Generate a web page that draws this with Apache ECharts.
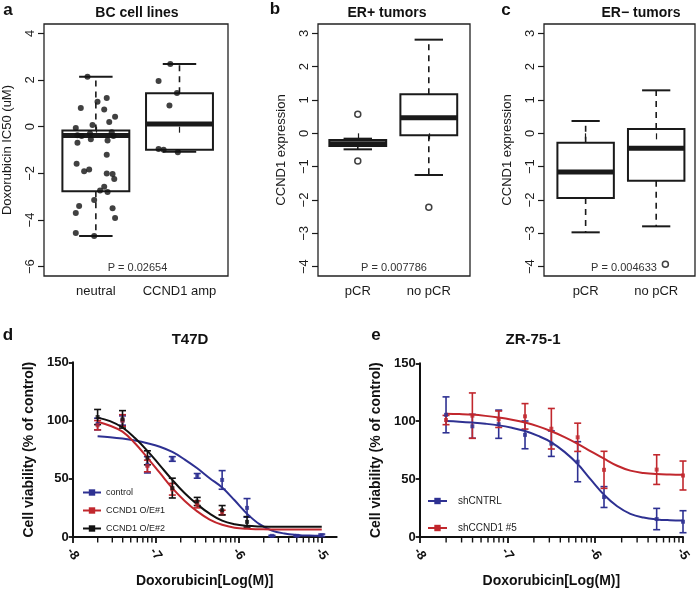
<!DOCTYPE html>
<html><head><meta charset="utf-8">
<script src="https://cdn.jsdelivr.net/npm/echarts@6/dist/echarts.min.js"></script>
<style>html,body{margin:0;padding:0;background:#fff}#c{width:698px;height:589px}</style>
</head><body><div id="c"></div>
<script>
// ---------- Panel a: BC cell lines ----------
const catsA = ['neutral', 'CCND1 amp'];
// [position, lowerWhisker, Q1, median, Q3, upperWhisker]
const boxA = [
  [1, -4.69, -2.77, -0.38, -0.16, 2.14],
  [2, -1.07, -0.99, 0.11, 1.43, 2.69]
];
const pointsA = [
  [0.90,2.14],[1.02,1.07],[1.13,1.23],[0.82,0.80],[1.10,0.74],[1.23,0.43],[0.96,0.07],[1.16,0.20],
  [0.76,-0.06],[0.78,-0.37],[0.83,-0.40],[0.93,-0.29],[0.94,-0.54],[1.19,-0.24],[1.21,-0.40],[0.78,-0.69],
  [1.14,-0.59],[1.13,-1.20],[0.77,-1.59],[0.86,-1.91],[0.92,-1.84],[1.13,-2.01],[1.20,-2.03],[1.22,-2.24],
  [1.10,-2.57],[1.05,-2.74],[1.14,-2.80],[0.98,-3.14],[0.80,-3.40],[0.76,-3.70],[1.20,-3.50],[1.23,-3.91],
  [0.76,-4.56],[0.98,-4.69],
  [1.89,2.69],[1.75,1.96],[1.97,1.44],[1.88,0.91],[1.75,-0.96],[1.81,-0.99],[1.98,-1.10]
];
const ticksA = [-6, -4, -2, 0, 2, 4];
const pA = 'P = 0.02654';

// ---------- Panel b: ER+ tumors ----------
const catsB = ['pCR', 'no pCR'];
const boxB = [
  [1, -0.48, -0.38, -0.31, -0.20, -0.16],
  [2, -1.25, -0.06, 0.47, 1.17, 2.81]
];
const outB = [[1, 0.57], [1, -0.83], [2, -2.22]];
const ticksBC = [-4, -3, -2, -1, 0, 1, 2, 3];
const pB = 'P = 0.007786';

// ---------- Panel c: ER- tumors ----------
const catsC = ['pCR', 'no pCR'];
const boxC = [
  [1, -2.97, -1.94, -1.16, -0.28, 0.37],
  [2, -2.79, -1.42, -0.45, 0.13, 1.29]
];
const outC = [[2.13, -3.93]];
const pC = 'P = 0.004633';

// ---------- Panel d: T47D ----------
const doseTicks = [-8, -7, -6, -5];
const curveControl = [[-7.7,86.5],[-7.55,85.7],[-7.4,84.5],[-7.25,82.8],[-7.1,80.5],[-6.95,77.5],[-6.8,73],[-6.65,66.5],[-6.5,59],[-6.35,50.5],[-6.2,42.5],[-6.05,31.5],[-5.9,20],[-5.75,11],[-5.6,5.5],[-5.45,3],[-5.3,1.8],[-5.15,1.2],[-5.0,1]];
const curveOE1 = [[-7.7,99],[-7.55,95.5],[-7.4,90.5],[-7.25,80.5],[-7.1,68],[-6.95,55],[-6.8,42],[-6.65,31],[-6.5,22],[-6.35,15],[-6.2,10.5],[-6.05,8],[-5.9,7],[-5.75,6.7],[-5.6,6.5],[-5.45,6.5],[-5.3,6.5],[-5.15,6.5],[-5.0,6.5]];
const curveOE2 = [[-7.7,102.5],[-7.55,99.5],[-7.4,94],[-7.25,85],[-7.1,74],[-6.95,61.5],[-6.8,49],[-6.65,37.5],[-6.5,28],[-6.35,20],[-6.2,14],[-6.05,11],[-5.9,9.6],[-5.75,9],[-5.6,8.8],[-5.45,8.7],[-5.3,8.7],[-5.15,8.7],[-5.0,8.7]];
// [log dose, mean, error]
const ptsControl = [[-7.7,97,5],[-7.4,100,4],[-7.1,62,7],[-6.8,67,2],[-6.5,52.5,2],[-6.2,49,8],[-5.9,25,8],[-5.6,1,0.5],[-5.3,1,0.5],[-5.0,1.5,1]];
const ptsOE1 = [[-7.7,96,4],[-7.4,100,5],[-7.1,61,5],[-6.8,41,5],[-6.5,28,3],[-6.2,21,2]];
const ptsOE2 = [[-7.7,103,6.5],[-7.4,101,7.5],[-7.1,68,6],[-6.8,42,8.5],[-6.5,30.5,3.5],[-6.2,23,4],[-5.9,13,4.5]];

// ---------- Panel e: ZR-75-1 ----------
const curveCNTRL = [[-7.7,100.2],[-7.55,99.6],[-7.4,98.8],[-7.25,97.8],[-7.1,96.4],[-6.95,94.3],[-6.8,91.5],[-6.65,87.3],[-6.5,81.8],[-6.35,73.5],[-6.2,63],[-6.05,49.5],[-5.9,36.5],[-5.75,26.5],[-5.6,20],[-5.45,16.8],[-5.3,15.2],[-5.15,14.5],[-5.0,14.2]];
const curveCCND1 = [[-7.7,106.5],[-7.55,106.2],[-7.4,105.7],[-7.25,104.6],[-7.1,103.1],[-6.95,101.2],[-6.8,98.8],[-6.65,95.5],[-6.5,91.3],[-6.35,86.3],[-6.2,80.5],[-6.05,74],[-5.9,67.6],[-5.75,61.5],[-5.6,57.3],[-5.45,55.3],[-5.3,54.3],[-5.15,53.9],[-5.0,53.7]];
const ptsCNTRL = [[-7.7,105.5,15.5],[-7.4,95.6,10.3],[-7.1,97.4,12.2],[-6.8,88.2,12],[-6.5,80.6,11],[-6.2,65,17.3],[-5.9,34.5,9],[-5.3,15.5,9.2],[-5.0,13.2,9.5]];
const ptsCCND1 = [[-7.7,101,4],[-7.4,104.8,19.6],[-7.1,101.7,7.1],[-6.8,104.2,11],[-6.5,93.5,17.5],[-6.2,86.1,12.2],[-5.9,58,16],[-5.3,58.2,12.8],[-5.0,53.1,12.5]];

// log-scale minor tick positions (axis decoration)
const minorTicks = [];
for (let d = -8; d < -5; d++) for (let k = 2; k <= 9; k++) minorTicks.push(d + Math.log10(k));

// ---------- styling ----------
const RF = '"Liberation Sans", Arial, sans-serif';
const INK = '#1a1a1a';
const BLUE = '#2E3192', RED = '#C1272D', BLACK = '#111111';
const minus = v => String(v).replace('-', '\u2212');

function boxRender(params, api) {
  const x = api.value(0), lo = api.value(1), q1 = api.value(2), med = api.value(3), q3 = api.value(4), hi = api.value(5);
  const tl = api.coord([x - 0.4, q3]), br = api.coord([x + 0.4, q1]);
  const cx = api.coord([x, med])[0];
  const sL = api.coord([x - 0.2, med])[0], sR = api.coord([x + 0.2, med])[0];
  const yLo = api.coord([x, lo])[1], yHi = api.coord([x, hi])[1], yMed = api.coord([x, med])[1];
  const ch = [];
  if (yHi < tl[1] - 1) ch.push({type:'line', shape:{x1:cx,y1:tl[1],x2:cx,y2:yHi}, style:{stroke:INK, lineWidth:1.6, lineDash:[6,5]}});
  if (yLo > br[1] + 1) ch.push({type:'line', shape:{x1:cx,y1:br[1],x2:cx,y2:yLo}, style:{stroke:INK, lineWidth:1.6, lineDash:[6,5]}});
  ch.push({type:'line', shape:{x1:sL,y1:yHi,x2:sR,y2:yHi}, style:{stroke:INK, lineWidth:2}});
  ch.push({type:'line', shape:{x1:sL,y1:yLo,x2:sR,y2:yLo}, style:{stroke:INK, lineWidth:2}});
  ch.push({type:'rect', shape:{x:tl[0], y:tl[1], width:br[0]-tl[0], height:br[1]-tl[1]}, style:{fill:'rgba(255,255,255,0)', stroke:INK, lineWidth:2}});
  ch.push({type:'line', shape:{x1:tl[0],y1:yMed,x2:br[0],y2:yMed}, style:{stroke:INK, lineWidth:5}});
  return {type:'group', children: ch};
}
function errRender(params, api) {
  const x = api.value(0), m = api.value(1), e = api.value(2);
  const t = api.coord([x, m + e]), b = api.coord([x, m - e]);
  const c = api.visual('color'), cap = 3.5;
  return {type:'group', children:[
    {type:'line', shape:{x1:t[0],y1:t[1],x2:b[0],y2:b[1]}, style:{stroke:c, lineWidth:1.6}},
    {type:'line', shape:{x1:t[0]-cap,y1:t[1],x2:t[0]+cap,y2:t[1]}, style:{stroke:c, lineWidth:1.6}},
    {type:'line', shape:{x1:b[0]-cap,y1:b[1],x2:b[0]+cap,y2:b[1]}, style:{stroke:c, lineWidth:1.6}}
  ]};
}
// minor log ticks: drawn just below the axis line from the minorTicks positions
function minorRender(params, api) {
  const p = api.coord([api.value(0), api.value(1)]);
  return {type:'group', children:[{type:'rect', shape:{x:p[0] - 0.7, y:p[1] + 1, width:1.4, height:4.5}, style:{fill:'#111'}}]};
}

function boxGrid(left, width) {
  return {left, top: 24, width, height: 252, show: true, borderColor: '#222', borderWidth: 1.3, backgroundColor: 'transparent'};
}
function catX(gi, min, max, cats) {
  return {type:'value', gridIndex: gi, min, max, splitLine:{show:false}, axisLine:{show:false},
    axisTick:{show:true, customValues:[1,2], length:6, lineStyle:{color:INK, width:1.2}},
    axisLabel:{customValues:[1,2], formatter: v => cats[Math.round(v)-1], fontFamily: RF, fontSize: 13, color: INK, margin: 9}};
}
function boxY(gi, min, max, ticks, name) {
  return {type:'value', gridIndex: gi, min, max, splitLine:{show:false}, axisLine:{show:false},
    name, nameLocation:'middle', nameGap: 30, nameTextStyle:{fontFamily: RF, fontSize: 13, color: INK},
    axisTick:{show:true, customValues: ticks, length:6, lineStyle:{color:INK, width:1.2}},
    axisLabel:{customValues: ticks, formatter: minus, rotate: 90, fontFamily: RF, fontSize: 13, color: INK, margin: 7}};
}
function doseX(gi, max) {
  return {type:'value', gridIndex: gi, position:'bottom', min: -8, max, splitLine:{show:false},
    name: 'Doxorubicin[Log(M)]', nameLocation:'middle', nameGap: 37,
    nameTextStyle:{fontFamily: RF, fontSize: 14, fontWeight:'bold', color: '#111'},
    axisLine:{show:true, lineStyle:{color:'#111', width:2}},
    axisTick:{show:true, customValues: doseTicks, length:6, lineStyle:{color:'#111', width:1.8}},
    axisLabel:{customValues: doseTicks, formatter: v => String(v), rotate: -55, align:'center', verticalAlign:'middle',
      fontFamily: RF, fontSize: 13, fontWeight:'bold', color:'#111', margin: 17}};
}
function viabY(gi) {
  return {type:'value', gridIndex: gi, min: 0, max: 150, interval: 50, splitLine:{show:false},
    name: 'Cell viability (% of control)', nameLocation:'middle', nameGap: 37,
    nameTextStyle:{fontFamily: RF, fontSize: 14, fontWeight:'bold', color:'#111'},
    axisLine:{show:true, lineStyle:{color:'#111', width:2}},
    axisTick:{show:true, length:4, lineStyle:{color:'#111', width:1.8}},
    axisLabel:{fontFamily: RF, fontSize: 13, fontWeight:'bold', color:'#111', margin: 4}};
}
function curve(name, data, color, xi, yi) {
  return {type:'line', name, data, xAxisIndex: xi, yAxisIndex: yi, smooth: 0.4,
    showSymbol: false, symbol: 'rect', symbolSize: 4, color, lineStyle:{color, width: 2}, z: 3, silent: true};
}
function errs(name, data, color, xi, yi) {
  return {type:'custom', name, data, xAxisIndex: xi, yAxisIndex: yi, renderItem: errRender, color,
    encode:{x:0, y:1}, z: 2, silent: true};
}
function pts(name, data, color, xi, yi) {
  return {type:'scatter', name, data: data.map(d => [d[0], d[1]]), xAxisIndex: xi, yAxisIndex: yi,
    symbol: 'rect', symbolSize: 4, itemStyle:{color}, z: 4, silent: true};
}
function minorSeries(xi, yi) {
  return {type:'custom', data: minorTicks.map(v => [v, 0]), xAxisIndex: xi, yAxisIndex: yi,
    renderItem: minorRender, encode:{x:0, y:1}, clip: false, silent: true, z: 20, zlevel: 1};
}
function txt(x, y, text, size, bold, align, color) {
  return {type:'text', x, y, style:{text, fontFamily: RF, fontSize: size, fontWeight: bold ? 'bold' : 'normal',
    fill: color || '#111', align: align || 'center', verticalAlign: 'middle'}};
}

const chart = echarts.init(document.getElementById('c'), null, {renderer: 'canvas'});
chart.setOption({
  animation: false,
  backgroundColor: '#fff',
  grid: [
    boxGrid(44, 184),
    boxGrid(318, 152),
    boxGrid(544, 151),
    {left: 72.7, top: 362.3, width: 264, height: 176.4},
    {left: 419.7, top: 363.3, width: 263.3, height: 176}
  ],
  xAxis: [
    catX(0, 0.38, 2.58, catsA),
    catX(1, 0.44, 2.58, catsB),
    catX(2, 0.41, 2.55, catsC),
    doseX(3, -4.82),
    doseX(4, -5)
  ],
  yAxis: [
    boxY(0, -6.4, 4.4, ticksA, 'Doxorubicin IC50 (uM)'),
    boxY(1, -4.28, 3.28, ticksBC, 'CCND1 expression'),
    boxY(2, -4.28, 3.28, ticksBC, 'CCND1 expression'),
    viabY(3),
    viabY(4)
  ],
  legend: [
    {data: ['control', 'CCND1 O/E#1', 'CCND1 O/E#2'], orient: 'vertical', left: 77, top: 483,
      itemWidth: 18, itemHeight: 8, itemGap: 9, textStyle:{fontFamily: RF, fontSize: 9, color:'#222'}},
    {data: ['shCNTRL', 'shCCND1 #5'], orient: 'vertical', left: 422, top: 491,
      itemWidth: 19, itemHeight: 8, itemGap: 17, textStyle:{fontFamily: RF, fontSize: 10, color:'#222', padding:[0,0,0,6]}}
  ],
  series: [
    {type:'custom', data: boxA, xAxisIndex: 0, yAxisIndex: 0, renderItem: boxRender, encode:{x:0, y:3}, silent: true},
    {type:'scatter', data: pointsA, xAxisIndex: 0, yAxisIndex: 0, symbolSize: 6, itemStyle:{color:'#111'}, z: 5, silent: true},
    {type:'custom', data: boxB, xAxisIndex: 1, yAxisIndex: 1, renderItem: boxRender, encode:{x:0, y:3}, silent: true},
    {type:'scatter', data: outB, xAxisIndex: 1, yAxisIndex: 1, symbolSize: 6, itemStyle:{color:'#fff', borderColor:'#111', borderWidth:1.5}, silent: true},
    {type:'custom', data: boxC, xAxisIndex: 2, yAxisIndex: 2, renderItem: boxRender, encode:{x:0, y:3}, silent: true},
    {type:'scatter', data: outC, xAxisIndex: 2, yAxisIndex: 2, symbolSize: 6, itemStyle:{color:'#fff', borderColor:'#111', borderWidth:1.5}, silent: true},

    minorSeries(3, 3),
    curve('control', curveControl, BLUE, 3, 3),
    curve('CCND1 O/E#1', curveOE1, RED, 3, 3),
    curve('CCND1 O/E#2', curveOE2, BLACK, 3, 3),
    errs('control', ptsControl, BLUE, 3, 3),
    errs('CCND1 O/E#1', ptsOE1, RED, 3, 3),
    errs('CCND1 O/E#2', ptsOE2, BLACK, 3, 3),
    pts('control', ptsControl, BLUE, 3, 3),
    pts('CCND1 O/E#1', ptsOE1, RED, 3, 3),
    pts('CCND1 O/E#2', ptsOE2, BLACK, 3, 3),

    minorSeries(4, 4),
    curve('shCNTRL', curveCNTRL, BLUE, 4, 4),
    curve('shCCND1 #5', curveCCND1, RED, 4, 4),
    errs('shCNTRL', ptsCNTRL, BLUE, 4, 4),
    errs('shCCND1 #5', ptsCCND1, RED, 4, 4),
    pts('shCNTRL', ptsCNTRL, BLUE, 4, 4),
    pts('shCCND1 #5', ptsCCND1, RED, 4, 4)
  ],
  graphic: [
    txt(8, 10, 'a', 17, true),
    txt(137, 13, 'BC cell lines', 14, true),
    txt(275, 9, 'b', 17, true),
    txt(387, 13, 'ER+ tumors', 14, true),
    txt(506, 10, 'c', 17, true),
    txt(641, 13, 'ER\u2212 tumors', 14, true),
    txt(137.5, 268, pA, 11, false, 'center', '#333'),
    txt(394, 268, pB, 11, false, 'center', '#333'),
    txt(624, 268, pC, 11, false, 'center', '#333'),
    txt(8, 335, 'd', 17, true),
    txt(190, 340, 'T47D', 15, true),
    txt(376, 335, 'e', 17, true),
    txt(533, 340, 'ZR-75-1', 15, true)
  ]
});
</script>
</body></html>
